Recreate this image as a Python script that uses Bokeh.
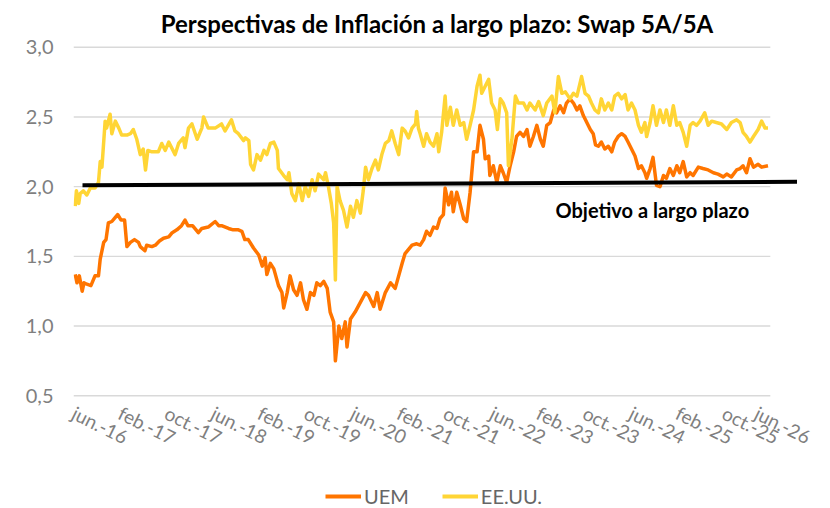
from bokeh.plotting import figure
from bokeh.layouts import column
from bokeh.models import Range1d, FixedTicker, Label, Legend, LegendItem
from bokeh.embed import file_html
from bokeh.resources import INLINE

# months since Jun-2016 and 5y5y swap values
uem_m = [0.3, 0.6, 1.0, 1.5, 1.8, 2.3, 3.0, 3.7, 4.3, 4.6, 5.2, 5.6, 6.0, 6.6, 7.2, 7.6, 8.2, 8.8, 9.2, 9.8,
         10.5, 11.2, 11.5, 12.3, 12.6, 13.5, 14.1, 14.8, 15.5, 16.4, 17.0, 17.8, 18.6, 19.2, 19.7, 20.5, 21.5,
         22.1, 23.2, 24.4, 25.0, 25.5, 26.7, 27.5, 28.4, 29.0, 29.5, 30.1, 31.0, 31.9, 32.5, 33.0, 33.3, 33.9,
         34.5, 35.3, 35.9, 36.2, 36.8, 37.3, 37.9, 38.5, 39.1, 39.6, 40.2, 40.8, 41.4, 41.9, 42.5, 43.1, 43.7,
         44.2, 44.8, 45.1, 45.7, 46.2, 46.8, 47.1, 47.7, 48.5, 49.4, 50.3, 50.8, 51.7, 52.3, 52.8, 53.7, 54.6,
         55.4, 56.0, 56.6, 57.1, 57.7, 58.3, 59.1, 59.7, 60.3, 60.8, 61.4, 62.0, 62.6, 63.1, 63.7, 64.0, 64.6,
         65.1, 65.4, 66.0, 66.6, 67.2, 67.7, 68.3, 68.9, 69.5, 70.0, 70.6, 70.9, 71.5, 71.7, 72.3, 72.9, 73.5,
         74.0, 74.6, 75.2, 75.8, 76.3, 76.9, 77.5, 78.1, 78.6, 79.2, 79.8, 80.4, 80.9, 81.5, 82.1, 82.7, 83.2,
         83.8, 84.4, 84.9, 85.5, 86.1, 86.7, 87.2, 87.8, 88.4, 89.0, 89.5, 89.9, 90.4, 90.9, 91.5, 92.1, 92.7,
         93.2, 93.8, 94.4, 95.0, 95.5, 96.1, 96.7, 97.3, 97.8, 98.4, 98.7, 99.3, 99.8, 100.4, 101.0, 101.6,
         102.1, 102.7, 103.3, 103.9, 104.4, 105.0, 105.6, 106.2, 106.7, 107.6, 108.4, 109.3, 110.2, 111.0,
         111.9, 112.5, 113.3, 114.2, 114.8, 115.3, 115.9, 116.5, 117.1, 117.9, 118.5, 119.6]
uem_v = [1.37, 1.31, 1.36, 1.25, 1.31, 1.30, 1.29, 1.36, 1.36, 1.48, 1.60, 1.62, 1.74, 1.75, 1.78, 1.80, 1.76, 1.76, 1.57, 1.60,
         1.62, 1.60, 1.57, 1.54, 1.58, 1.57, 1.58, 1.61, 1.63, 1.64, 1.67, 1.69, 1.72, 1.76, 1.72, 1.72, 1.67,
         1.70, 1.71, 1.75, 1.72, 1.72, 1.70, 1.69, 1.69, 1.68, 1.62, 1.62, 1.56, 1.51, 1.43, 1.49, 1.37, 1.45,
         1.41, 1.29, 1.24, 1.13, 1.24, 1.36, 1.26, 1.22, 1.31, 1.19, 1.12, 1.24, 1.22, 1.31, 1.29, 1.32, 1.27,
         1.10, 1.03, 0.75, 1.00, 0.91, 1.03, 0.85, 1.05, 1.10, 1.17, 1.24, 1.22, 1.14, 1.24, 1.12, 1.24, 1.31,
         1.27, 1.36, 1.45, 1.52, 1.55, 1.58, 1.59, 1.58, 1.62, 1.68, 1.65, 1.71, 1.70, 1.77, 1.80, 1.99, 1.87,
         1.96, 1.82, 1.96, 1.87, 1.77, 1.75, 1.96, 2.25, 2.25, 2.44, 2.34, 2.20, 2.22, 2.08, 2.15, 2.03, 2.15,
         2.10, 2.03, 2.15, 2.25, 2.36, 2.39, 2.36, 2.41, 2.29, 2.36, 2.44, 2.34, 2.29, 2.44, 2.46, 2.55, 2.53,
         2.58, 2.53, 2.60, 2.63, 2.60, 2.55, 2.58, 2.51, 2.46, 2.41, 2.38, 2.30, 2.29, 2.32, 2.27, 2.29, 2.25,
         2.32, 2.36, 2.38, 2.36, 2.32, 2.27, 2.22, 2.13, 2.15, 2.10, 2.06, 2.13, 2.21, 2.01, 2.00, 2.08,
         2.06, 2.13, 2.08, 2.15, 2.10, 2.18, 2.07, 2.10, 2.08, 2.14, 2.13, 2.12, 2.10, 2.09,
         2.07, 2.09, 2.07, 2.12, 2.13, 2.15, 2.10, 2.20, 2.14, 2.16, 2.14, 2.15]

usa_m = [0.3, 0.5, 0.9, 1.15, 1.7, 2.3, 2.9, 3.7, 4.3, 4.6, 4.9, 5.45, 5.7, 6.3, 6.6, 7.2, 7.8, 8.3, 9.2, 9.8,
         10.3, 10.9, 11.5, 12.0, 12.4, 12.8, 13.5, 14.6, 15.2, 15.8, 16.4, 17.5, 18.1, 18.9, 19.2, 19.8, 20.4,
         21.3, 22.1, 22.4, 23.2, 24.4, 25.5, 26.1, 27.2, 27.8, 28.4, 29.3, 29.6, 30.2, 30.5, 31.0, 31.6, 32.2,
         32.8, 33.3, 33.9, 34.5, 35.1, 35.3, 36.2, 36.8, 37.1, 37.6, 38.2, 38.8, 39.4, 39.9, 40.5, 41.1, 41.6,
         42.2, 43.1, 43.4, 43.9, 44.4, 44.8, 45.1, 45.4, 45.9, 46.5, 47.1, 47.7, 48.2, 48.8, 49.4, 49.9, 50.3,
         50.8, 51.4, 52.0, 52.5, 53.1, 53.7, 54.3, 54.8, 55.4, 56.0, 56.6, 57.1, 57.7, 58.3, 58.9, 59.1, 59.4,
         59.7, 60.3, 60.8, 61.4, 62.0, 62.6, 62.9, 63.4, 64.0, 64.3, 64.9, 65.4, 66.0, 66.6, 67.2, 67.7, 68.3,
         68.9, 69.5, 70.0, 70.3, 70.9, 71.5, 72.0, 72.6, 73.0, 73.5, 74.0, 74.6, 74.9, 75.5, 76.1, 76.6, 77.5,
         78.1, 78.6, 79.5, 80.1, 80.9, 81.5, 82.4, 82.9, 83.5, 84.1, 84.7, 85.5, 86.1, 86.7, 87.5, 88.1, 88.7,
         89.2, 89.8, 90.4, 90.9, 91.5, 92.1, 92.7, 93.2, 93.8, 94.4, 95.0, 95.5, 96.1, 96.7, 97.3, 97.8, 98.4,
         98.7, 99.3, 99.8, 100.4, 101.0, 101.6, 102.1, 102.7, 103.3, 103.9, 104.4, 105.0, 105.6, 106.2, 106.7,
         107.3, 107.9, 108.7, 109.3, 109.9, 110.7, 111.6, 112.5, 113.3, 114.2, 114.8, 115.3, 115.9, 116.5,
         117.1, 117.9, 118.5, 119.1, 119.6]
usa_v = [1.86, 1.97, 1.88, 1.95, 1.97, 1.94, 1.99, 1.99, 2.03, 2.18, 2.14, 2.47, 2.42, 2.52, 2.38, 2.47, 2.42, 2.37, 2.37, 2.38,
         2.41, 2.34, 2.23, 2.27, 2.12, 2.26, 2.25, 2.25, 2.31, 2.26, 2.32, 2.23, 2.31, 2.35, 2.28, 2.42, 2.45,
         2.34, 2.42, 2.50, 2.42, 2.42, 2.45, 2.40, 2.48, 2.40, 2.38, 2.33, 2.35, 2.33, 2.16, 2.12, 2.23, 2.19,
         2.26, 2.23, 2.31, 2.32, 2.26, 2.13, 2.08, 2.05, 2.10, 1.95, 1.90, 2.02, 1.90, 2.00, 1.93, 2.05, 1.97,
         2.09, 2.05, 2.10, 2.00, 1.88, 1.74, 1.33, 2.00, 1.90, 1.83, 1.71, 1.86, 1.78, 1.90, 1.81, 1.97, 2.14,
         2.05, 2.13, 2.19, 2.12, 2.23, 2.31, 2.33, 2.40, 2.31, 2.23, 2.42, 2.40, 2.35, 2.42, 2.45, 2.54, 2.42,
         2.38, 2.29, 2.38, 2.32, 2.29, 2.38, 2.25, 2.39, 2.65, 2.44, 2.57, 2.44, 2.55, 2.44, 2.46, 2.34, 2.44,
         2.55, 2.72, 2.80, 2.67, 2.72, 2.77, 2.60, 2.55, 2.41, 2.63, 2.60, 2.53, 2.15, 2.34, 2.65, 2.60, 2.60,
         2.55, 2.60, 2.55, 2.61, 2.51, 2.60, 2.65, 2.53, 2.79, 2.67, 2.68, 2.63, 2.67, 2.65, 2.79, 2.67, 2.65,
         2.60, 2.55, 2.53, 2.63, 2.55, 2.60, 2.55, 2.65, 2.67, 2.63, 2.66, 2.55, 2.60, 2.55, 2.44, 2.39, 2.46,
         2.36, 2.46, 2.58, 2.44, 2.55, 2.46, 2.55, 2.44, 2.58, 2.44, 2.46, 2.39, 2.29, 2.44, 2.46,
         2.44, 2.47, 2.53, 2.44, 2.47, 2.46, 2.45, 2.41, 2.46, 2.48, 2.46, 2.39, 2.36, 2.32,
         2.36, 2.41, 2.47, 2.42, 2.42]

target_m = [1.55, 124.6]
target_v = [2.01, 2.035]

x_ticks = [0, 8, 16, 24, 32, 40, 48, 56, 64, 72, 80, 88, 96, 104, 112, 120]
x_labels = ["jun.-16", "feb.-17", "oct.-17", "jun.-18", "feb.-19", "oct.-19", "jun.-20", "feb.-21",
            "oct.-21", "jun.-22", "feb.-23", "oct.-23", "jun.-24", "feb.-25", "oct.-25", "jun.-26"]
y_ticks = [0.5, 1.0, 1.5, 2.0, 2.5, 3.0]
y_labels = ["0,5", "1,0", "1,5", "2,0", "2,5", "3,0"]
series_names = ["UEM", "EE.UU."]

FONT = "Lato"
UEM_COLOR = "#ff7500"
USA_COLOR = "#ffd535"

p = figure(width=814, height=462, output_backend="svg", toolbar_location=None,
           x_range=Range1d(0, 125.2), y_range=Range1d(0.48, 3.02),
           min_border_left=73, min_border_right=14, min_border_top=44, min_border_bottom=60)
p.outline_line_color = None
p.background_fill_color = "white"
p.border_fill_color = "white"
p.xgrid.visible = False
p.ygrid.visible = False

p.title.text = "Perspectivas de Inflación a largo plazo: Swap 5A/5A"
p.title.align = "center"
p.title.text_font = FONT
p.title.text_font_size = "24px"
p.title.text_font_style = "bold"
p.title.text_color = "#000000"
p.title.standoff = 13

# grid
p.segment(x0=[x_ticks[0]] * len(y_ticks), x1=[x_ticks[-1]] * len(y_ticks), y0=y_ticks, y1=y_ticks,
          line_color="#d9d9d9", line_width=1.4)

p.line(uem_m, uem_v, line_color=UEM_COLOR, line_width=3.5, line_join="round")
p.line(usa_m, usa_v, line_color=USA_COLOR, line_width=3.5, line_join="round")
p.line(target_m, target_v, line_color="#000000", line_width=4)

p.add_layout(Label(x=83.0, y=1.83, text="Objetivo a largo plazo", text_font=FONT,
                   text_font_size="20px", text_font_style="bold", text_color="#000000",
                   text_baseline="middle", text_align="left"))

for ax in (p.xaxis[0], p.yaxis[0]):
    ax.axis_line_color = None
    ax.major_tick_line_color = None
    ax.minor_tick_line_color = None
    ax.major_label_text_font = FONT
    ax.major_label_text_color = "#7f7f7f"

p.xaxis.ticker = FixedTicker(ticks=x_ticks)
p.xaxis.major_label_overrides = {t: l for t, l in zip(x_ticks, x_labels)}
p.xaxis.major_label_orientation = -0.46
p.xaxis.major_label_text_font_size = "19px"
p.xaxis.major_label_standoff = 7

p.yaxis.ticker = FixedTicker(ticks=y_ticks)
p.yaxis.major_label_overrides = {t: l for t, l in zip(y_ticks, y_labels)}
p.yaxis.major_label_text_font_size = "20px"
p.yaxis.major_label_standoff = 14

# legend strip below the chart (its frame is aligned with the main frame by the column)
lg = figure(width=814, height=46, output_backend="svg", toolbar_location=None,
            x_range=Range1d(0, 1), y_range=Range1d(0, 1),
            min_border_left=73, min_border_right=14, min_border_top=0, min_border_bottom=0)
lg.axis.visible = False
lg.grid.visible = False
lg.outline_line_color = None
lg.background_fill_color = "white"
r_uem = lg.line([-2, -1], [-2, -1], line_color=UEM_COLOR, line_width=4)
r_usa = lg.line([-2, -1], [-2, -1], line_color=USA_COLOR, line_width=4)
legend = Legend(items=[LegendItem(label=series_names[0], renderers=[r_uem]),
                       LegendItem(label=series_names[1], renderers=[r_usa])],
                orientation="horizontal", location=(252, 0),
                label_text_font=FONT, label_text_font_size="20px", label_text_color="#666666",
                glyph_width=36, label_standoff=3, spacing=33, border_line_color=None,
                background_fill_alpha=0, padding=2, margin=0)
lg.add_layout(legend, "center")

open("out.html", "w").write(file_html(column(p, lg), INLINE))
